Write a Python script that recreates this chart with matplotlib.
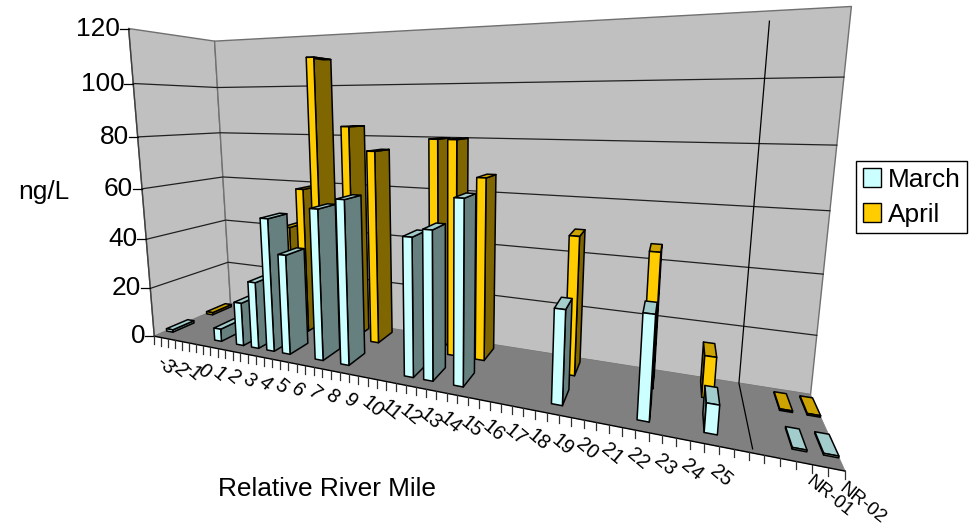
import numpy as np
import matplotlib
matplotlib.use('Agg')
import matplotlib.pyplot as plt
from matplotlib.patches import Polygon, Patch

plt.rcParams['font.family'] = ['Liberation Sans', 'DejaVu Sans']

# data
miles_labels = [str(m) for m in range(-3, 26)]
march_miles = [-3, 0.5, 2, 3, 4, 5, 7, 8.5, 12, 13, 14.5, 19, 22.5, 25, 'NR-01', 'NR-02']
march_vals = [1, 5, 17, 26, 51, 38, 56, 60, 49, 52, 63, 31, 33, 9, 0.5, 0.5]
april_miles = [-3, 3, 4, 5, 7, 8.5, 12, 13, 14.5, 19, 22.5, 25, 'NR-01', 'NR-02']
april_vals = [1, 43, 59, 110, 84, 75, 80, 80, 67, 49, 46, 14, 0.5, 0.5]
y_ticks = [0, 20, 40, 60, 80, 100, 120]

N = 65
nr_slots = {'NR-01': 62, 'NR-02': 64}

def slot(m):
    if m in nr_slots:
        return nr_slots[m]
    return (m + 3) * 2

# projection from (slot/N, depth, value/120) to pixels, fitted on the box corners
box = [(0, 0, 0, 155, 336), (1, 0, 0, 845, 472), (1, 1, 0, 811, 394), (0, 1, 0, 230, 304),
       (0, 0, 1, 128, 29), (0, 1, 1, 215, 41), (1, 1, 1, 852, 7),
       (1, 1, 0.5, 829, 210), (0, 0, 0.5, 142, 188), (0, 1, 0.5, 223, 177)]
rows = []
for X, Y, Z, u, v in box:
    rows.append([X, Y, Z, 1, 0, 0, 0, 0, -u * X, -u * Y, -u * Z, -u])
    rows.append([0, 0, 0, 0, X, Y, Z, 1, -v * X, -v * Y, -v * Z, -v])
P = np.linalg.svd(np.array(rows, float))[2][-1].reshape(3, 4)

def proj(s, d, val):
    h = P @ np.array([s / N, d, val / 120, 1.0])
    return h[0] / h[2], h[1] / h[2]

fig = plt.figure(figsize=(9.75, 5.31), dpi=100)
ax = fig.add_axes([0, 0, 1, 1])
ax.set_xlim(0, 975)
ax.set_ylim(531, 0)
ax.axis('off')

def face(pts, fc, ec='black', lw=1.1, z=3):
    ax.add_patch(Polygon(pts, closed=True, fc=fc, ec=ec, lw=lw, zorder=z, joinstyle='round'))

# walls and floor
wall = '#c0c0c0'
face([proj(0, 0, 0), proj(0, 1, 0), proj(0, 1, 120), proj(0, 0, 120)], wall, '#707070', 1.0, 1)
face([proj(0, 1, 0), proj(N, 1, 0), proj(N, 1, 120), proj(0, 1, 120)], wall, '#707070', 1.0, 1)
face([proj(0, 0, 0), proj(N, 0, 0), proj(N, 1, 0), proj(0, 1, 0)], '#808080', '#808080', 0.5, 1)
ax.plot(*zip(proj(0, 0, 0), proj(N, 0, 0)), color='black', lw=1.0, zorder=2)
ax.plot(*zip(proj(0, 0, 0), proj(0, 0, 120)), color='#404040', lw=1.0, zorder=2)

for t in y_ticks[1:-1]:
    ax.plot(*zip(proj(0, 0, t), proj(0, 1, t), proj(N, 1, t)), color='#202020', lw=0.9, zorder=2)
for t in y_ticks:
    x0, y0 = proj(0, 0, t)
    ax.plot([x0 - 9, x0], [y0, y0], color='black', lw=0.9, zorder=2)
    ax.text(x0 - 9, y0, str(t), ha='right', va='center', fontsize=18.9)

# divider line on the wall and floor
D = 59.3
ax.plot(*zip(proj(D, 1, 117), proj(D, 1, 0), proj(D, 0.05, 0)), color='black', lw=0.9, zorder=2)

# category ticks
for s in range(N + 1):
    x0, y0 = proj(s, 0, 0)
    ax.plot([x0, x0], [y0, y0 + 8], color='#303030', lw=0.9, zorder=2)
for i, lab in enumerate(miles_labels):
    x0, y0 = proj(i * 2 + 0.5, 0, 0)
    ax.text(x0 + 7, y0 + 16, lab, rotation=-40, rotation_mode='anchor', ha='left', va='top', fontsize=14.2)
for lab, s in nr_slots.items():
    x0, y0 = proj(s + 0.5, 0, 0)
    ax.text(x0 + 10, y0 + 10, lab, rotation=-39, rotation_mode='anchor', ha='left', va='top', fontsize=13.6)

# bars
def bar(m, val, d0, d1, front, side, top):
    s = slot(m)
    s0, s1 = s + 0.03, s + 0.97
    fl = proj(s0, d0, 0); fr = proj(s1, d0, 0)
    flt = proj(s0, d0, val); frt = proj(s1, d0, val)
    bl = proj(s0, d1, 0); br = proj(s1, d1, 0)
    blt = proj(s0, d1, val); brt = proj(s1, d1, val)
    if br[0] > fr[0]:
        face([fr, br, brt, frt], side)
    if bl[0] < fl[0]:
        face([fl, bl, blt, flt], side)
    face([flt, frt, brt, blt], top)
    face([fl, fr, frt, flt], front)

for m, v in zip(april_miles, april_vals):
    bar(m, v, 0.65, 0.92, '#ffcc00', '#806600', '#cca300')
for m, v in zip(march_miles, march_vals):
    bar(m, v, 0.14, 0.40, '#ccffff', '#668080', '#a3cccc')

ax.text(18, 192, 'ng/L', ha='left', va='center', fontsize=18.9)
ax.text(218, 489, 'Relative River Mile', ha='left', va='center', fontsize=18.9)

handles = [Patch(fc='#ccffff', ec='black', lw=1.0, label='March'),
           Patch(fc='#ffcc00', ec='black', lw=1.0, label='April')]
ax.legend(handles=handles, loc='upper left', bbox_to_anchor=(856 / 975, 1 - 161 / 531),
          fontsize=18.9, frameon=True, fancybox=False, framealpha=1, edgecolor='black',
          borderpad=0.25, labelspacing=0.42, handlelength=0.7, handleheight=0.7,
          handletextpad=0.25, borderaxespad=0)

fig.savefig('out.png', dpi=100)
